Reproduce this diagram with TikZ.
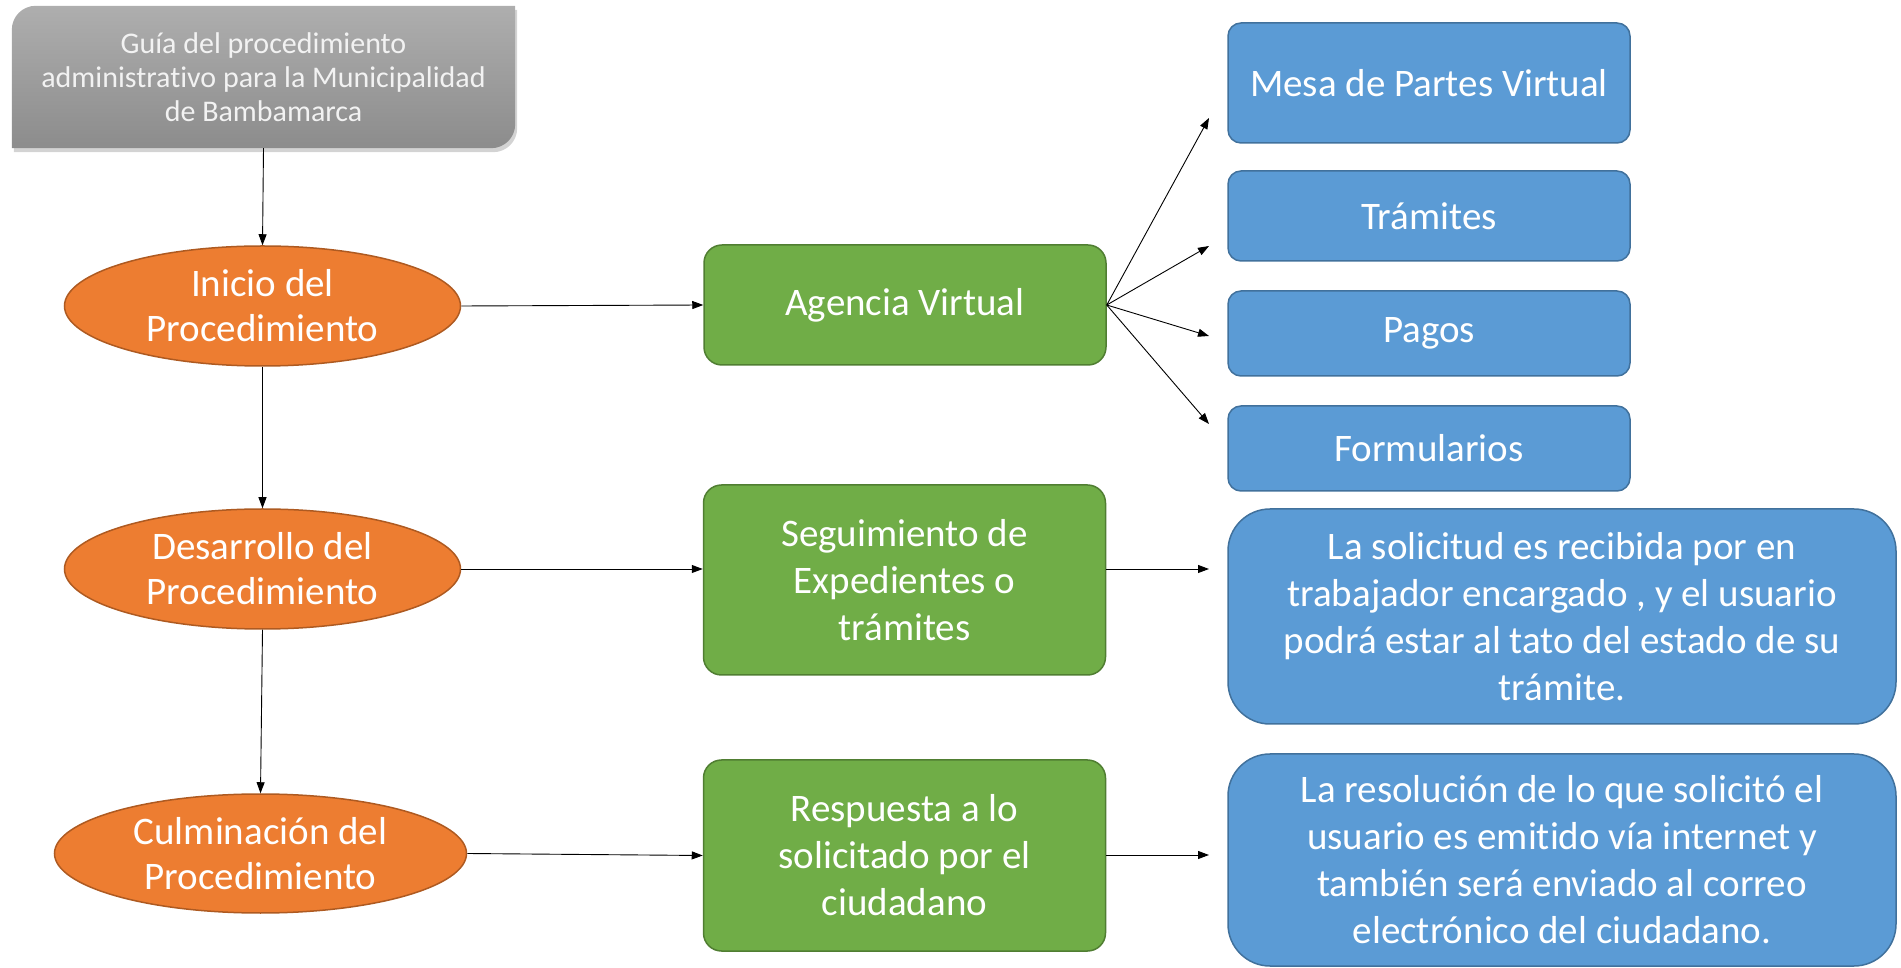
\documentclass[tikz,border=0pt]{standalone}
\usepackage{fontspec}
\setmainfont{Carlito}[Ligatures=NoCommon]
\usetikzlibrary{arrows.meta,shapes.geometric,shadows,backgrounds}
\definecolor{orangeF}{HTML}{ED7D31}
\definecolor{orangeD}{HTML}{AE5A21}
\definecolor{greenF}{HTML}{70AD47}
\definecolor{greenD}{HTML}{507E32}
\definecolor{blueF}{HTML}{5B9BD5}
\definecolor{blueD}{HTML}{41719C}
\definecolor{grayT}{HTML}{AEAEAE}
\definecolor{grayB}{HTML}{8C8C8C}
\definecolor{grayTxt}{HTML}{F2F2F2}
\begin{document}
\begin{tikzpicture}[x=1pt,y=1pt,
  txt/.style={text=white, font=\fontsize{39}{47}\selectfont, align=center, inner sep=0pt},
  oval/.style={ellipse, fill=orangeF, draw=orangeD, line width=1.5pt, txt, font=\fontsize{39}{45}\selectfont},
  gbox/.style={rectangle, rounded corners=18pt, fill=greenF, draw=greenD, line width=1.5pt, minimum width=402pt, txt},
  bbox/.style={rectangle, rounded corners=13pt, fill=blueF, draw=blueD, line width=1.5pt, minimum width=402pt, txt},
  bigbox/.style={bbox, rounded corners=42pt, minimum width=668pt},
  graytxt/.style={text=grayTxt, font=\fontsize{30}{34}\selectfont, align=center, inner sep=0pt},
  conn/.style={-{Triangle[length=11pt,width=8pt]}, line width=0.9pt, black},
]
\useasboundingbox (0,0) rectangle (1901,967);

% gray title
\node[graytxt, minimum width=503pt, minimum height=142pt] (gray) at (263.5,890) {Guía del procedimiento\\administrativo para la Municipalidad\\de Bambamarca};
\begin{scope}[on background layer]
\shade[top color=grayT, bottom color=grayB, drop shadow={shadow xshift=2pt,shadow yshift=-4pt,opacity=0.35}]
 (gray.south west) -- ([yshift=-24pt]gray.north west) arc[start angle=180,end angle=90,radius=24pt]
 -- (gray.north east) -- ([yshift=24pt]gray.south east) arc[start angle=0,end angle=-90,radius=24pt] -- cycle;
\end{scope}

% ellipses
\node[oval, minimum width=396pt, minimum height=120pt] (e1) at (262.5,661) {Inicio del\\Procedimiento};
\node[oval, minimum width=396pt, minimum height=120pt] (e2) at (262.5,398) {Desarrollo del\\Procedimiento};
\node[oval, minimum width=412pt, minimum height=119pt] (e3) at (260.5,113.5) {Culminación del\\Procedimiento};

% green boxes
\node[gbox, minimum height=120pt] (g1) at (905,662) {Agencia Virtual};
\node[gbox, minimum height=190pt] (g2) at (904.5,387) {Seguimiento de\\Expedientes o\\trámites};
\node[gbox, minimum height=191pt] (g3) at (904.5,111.5) {Respuesta a lo\\solicitado por el\\ciudadano};

% blue boxes
\node[bbox, minimum height=120pt] (b1) at (1429,884) {Mesa de Partes Virtual};
\node[bbox, minimum height=90pt] (b2) at (1429,751) {Trámites};
\node[bbox, minimum height=85pt] (b3) at (1429,633.5) {Pagos};
\node[bbox, minimum height=85pt] (b4) at (1429,518.5) {Formularios};
\node[bigbox, minimum height=215pt] (b5) at (1562,350.5) {La solicitud es recibida por en\\trabajador encargado , y el usuario\\podrá estar al tato del estado de su\\trámite.};
\node[bigbox, minimum height=212pt] (b6) at (1562,107) {La resolución de lo que solicitó el\\usuario es emitido vía internet y\\también será enviado al correo\\electrónico del ciudadano.};

% free arrow ends
\coordinate (t1) at (1209,849);
\coordinate (t2) at (1209,721);
\coordinate (t3) at (1209,631);
\coordinate (t4) at (1209,543);
\coordinate (t5) at (1209,398);
\coordinate (t6) at (1209,112);

% connectors
\draw[conn] (gray.south) -- (e1.north);
\draw[conn] (e1.south) -- (e2.north);
\draw[conn] (e2.south) -- (e3.north);
\draw[conn] (e1.east) -- (g1.west);
\draw[conn] (e2.east) -- (e2.east -| g2.west);
\draw[conn] (e3.east) -- (g3.west);
\draw[conn] (g1.east) -- (t1);
\draw[conn] (g1.east) -- (t2);
\draw[conn] (g1.east) -- (t3);
\draw[conn] (g1.east) -- (t4);
\draw[conn] (g2.east |- t5) -- (t5);
\draw[conn] (g3.east |- t6) -- (t6);
\end{tikzpicture}
\end{document}
